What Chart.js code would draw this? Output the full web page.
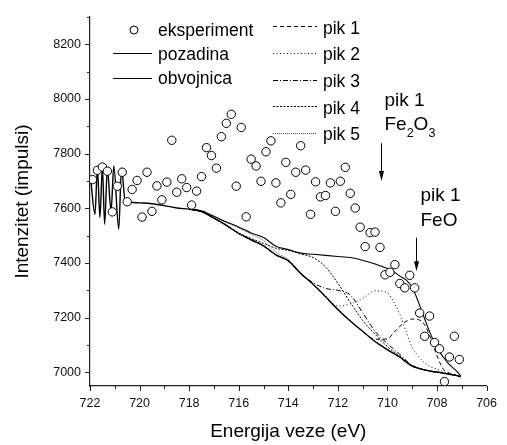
<!DOCTYPE html>
<html>
<head>
<meta charset="utf-8">
<script src="https://cdn.jsdelivr.net/npm/chart.js@4.4.0/dist/chart.umd.min.js"></script>
<style>
    html, body { margin: 0; padding: 0; background: #ffffff; }
    #wrap { width: 507px; height: 445px; }
</style>
</head>
<body>
<div id="wrap"><canvas id="xpsChart" width="507" height="445"></canvas></div>
<script>
// XPS Fe 2p3/2 spektar - eksperiment, pozadina, obvojnica i pikovi

const FONT = "'Liberation Sans', Arial, sans-serif";

// tick labels
const xTicks = [722, 720, 718, 716, 714, 712, 710, 708, 706];
const xMinorTicks = [721, 719, 717, 715, 713, 711, 709, 707];
const yTicks = [7000, 7200, 7400, 7600, 7800, 8000, 8200];
const yMinorTicks = [7100, 7300, 7500, 7700, 7900, 8100, 8300];

// eksperiment (circles)
const expX = [721.9, 721.7, 721.5, 721.3, 721.1, 720.9, 720.7, 720.5, 720.3, 720.1,
    719.9, 719.7, 719.5, 719.3, 719.1, 718.9, 718.7, 718.5, 718.3, 718.1,
    717.9, 717.7, 717.5, 717.3, 717.1, 716.9, 716.7, 716.5, 716.3, 716.1,
    715.9, 715.7, 715.5, 715.3, 715.1, 714.9, 714.7, 714.5, 714.3, 714.1,
    713.9, 713.7, 713.5, 713.3, 713.1, 712.9, 712.7, 712.5, 712.3, 712.1,
    711.9, 711.7, 711.5, 711.3, 711.1, 710.9, 710.7, 710.5, 710.3, 710.1,
    709.9, 709.7, 709.5, 709.3, 709.1, 708.9, 708.7, 708.5, 708.3, 708.1,
    707.9, 707.7, 707.5, 707.3, 707.1];
const expY = [7705, 7739, 7751, 7736, 7587, 7681, 7732, 7624, 7669, 7702,
    7568, 7732, 7589, 7682, 7631, 7696, 7849, 7659, 7708, 7676,
    7612, 7663, 7716, 7822, 7793, 7747, 7862, 7911, 7944, 7681,
    7896, 7569, 7780, 7755, 7699, 7807, 7847, 7693, 7620, 7768,
    7651, 7732, 7829, 7740, 7578, 7697, 7642, 7647, 7693, 7589,
    7699, 7750, 7655, 7601, 7531, 7460, 7511, 7513, 7457, 7357,
    7366, 7394, 7325, 7309, 7355, 7309, 7217, 7132, 7206, 7109,
    7086, 6966, 7056, 7132, 7047];

// pozadina (background)
const bgX = [721.97, 721.8, 721.7, 721.6, 721.5, 721.41, 721.3, 721.15, 721.04, 720.84,
    720.73, 720.58, 720.4, 720, 719.5, 719, 718.5, 718, 717.5, 717,
    716.5, 716, 715.5, 715, 714.5, 714, 713.5, 713, 712.5, 712,
    711.5, 711, 710.5, 710, 709.75, 709.5, 709.25, 709, 708.75, 708.5,
    708.25, 708, 707.75, 707.5, 707.25, 707.04];
const bgY = [7705, 7578, 7747, 7566, 7750, 7542, 7743, 7590, 7755, 7524,
    7748, 7625, 7622, 7620, 7617, 7610, 7601, 7597, 7588, 7564,
    7538, 7508, 7485, 7463, 7430, 7408, 7362, 7322, 7277, 7230,
    7188, 7150, 7113, 7083, 7069, 7056, 7038, 7023, 7015, 7009,
    7004, 7001, 6997, 6993, 6989, 6984];

// fit range (obvojnica + pikovi)
const fitX = [718, 717.5, 717, 716.5, 716, 715.5, 715, 714.5, 714, 713.5,
    713, 712.5, 712, 711.5, 711, 710.5, 710, 709.75, 709.5, 709.25,
    709, 708.75, 708.5, 708.25, 708, 707.75, 707.5, 707.25, 707.04];
const envY = [7598, 7591, 7571, 7550, 7532, 7510, 7493, 7461, 7449, 7436,
    7432, 7428, 7424, 7420, 7410, 7396, 7380, 7368, 7352, 7338,
    7310, 7257, 7196, 7138, 7090, 7056, 7028, 7008, 6987];
const pik1Y = [7597, 7588, 7564, 7538, 7508, 7485, 7463, 7430, 7408, 7362,
    7322, 7277, 7230, 7188, 7150, 7121, 7122, 7145, 7168, 7186,
    7195, 7193, 7174, 7123, 7061, 7012, 6997, 6990, 6984];
const pik2Y = [7597, 7588, 7564, 7538, 7508, 7485, 7463, 7430, 7408, 7362,
    7322, 7280, 7242, 7250, 7270, 7298, 7291, 7258, 7212, 7150,
    7092, 7058, 7035, 7020, 7012, 7002, 6995, 6990, 6984];
const pik3Y = [7597, 7588, 7564, 7538, 7508, 7485, 7463, 7430, 7408, 7362,
    7328, 7307, 7300, 7283, 7218, 7150, 7105, 7085, 7066, 7044,
    7026, 7015, 7009, 7004, 7001, 6997, 6993, 6989, 6984];
const pik4Y = [7597, 7588, 7564, 7538, 7510, 7490, 7472, 7454, 7446, 7433,
    7420, 7386, 7326, 7256, 7190, 7140, 7094, 7076, 7060, 7040,
    7024, 7015, 7009, 7004, 7001, 6997, 6993, 6989, 6984];
const pik5Y = [7598, 7590, 7570, 7549, 7528, 7505, 7482, 7440, 7413, 7364,
    7322, 7277, 7230, 7188, 7150, 7113, 7083, 7069, 7056, 7038,
    7023, 7015, 7009, 7004, 7001, 6997, 6993, 6989, 6984];

function toPoints(xs, ys) {
    return xs.map((x, i) => ({ x: x, y: ys[i] }));
}

function lineSet(label, xs, ys, width, dash, color) {
    return {
        label: label,
        data: toPoints(xs, ys),
        showLine: true,
        borderColor: color || '#000000',
        borderWidth: width,
        borderDash: dash,
        pointRadius: 0,
        fill: false,
        cubicInterpolationMode: 'monotone'
    };
}

// axis tick marks: long for labelled, short for minor
const tickMarks = {
    id: 'tickMarks',
    afterDraw(chart) {
        const { ctx, scales: { x, y } } = chart;
        ctx.save();
        ctx.strokeStyle = '#222222';
        ctx.lineWidth = 1;
        ctx.beginPath();
        xTicks.concat(xMinorTicks).forEach(v => {
            const px = Math.round(x.getPixelForValue(v)) + 0.5;
            const len = xTicks.includes(v) ? 5 : 3;
            ctx.moveTo(px, x.top);
            ctx.lineTo(px, x.top + len);
        });
        yTicks.concat(yMinorTicks).forEach(v => {
            const py = Math.round(y.getPixelForValue(v)) + 0.5;
            const len = yTicks.includes(v) ? 5 : 3;
            ctx.moveTo(y.right, py);
            ctx.lineTo(y.right - len, py);
        });
        ctx.stroke();
        ctx.restore();
    }
};

// legend in two columns, as in the original figure
const figureLegend = {
    id: 'figureLegend',
    afterDatasetsDraw(chart) {
        const ctx = chart.ctx;
        const ds = chart.data.datasets;
        ctx.save();
        ctx.font = '17.5px ' + FONT;
        ctx.fillStyle = '#000000';
        ctx.textBaseline = 'alphabetic';

        // eksperiment
        ctx.beginPath();
        ctx.arc(134, 30, 4, 0, Math.PI * 2);
        ctx.fillStyle = '#ffffff';
        ctx.fill();
        ctx.strokeStyle = '#000000';
        ctx.lineWidth = 1;
        ctx.stroke();
        ctx.fillStyle = '#000000';
        ctx.fillText(ds[0].label, 158, 35.5);

        const left = [[ds[1], 53.5, 60], [ds[2], 78.5, 84]];
        left.forEach(([d, ly, ty]) => {
            ctx.beginPath();
            ctx.setLineDash(d.borderDash || []);
            ctx.lineWidth = 1;
            ctx.strokeStyle = d.borderColor;
            ctx.moveTo(113, ly);
            ctx.lineTo(152, ly);
            ctx.stroke();
            ctx.fillText(d.label, 158, ty);
        });

        const right = [[ds[3], 26.5, 33.5], [ds[4], 53.5, 60], [ds[5], 80.5, 87],
            [ds[6], 106.5, 113.5], [ds[7], 133.5, 140]];
        right.forEach(([d, ly, ty]) => {
            ctx.beginPath();
            ctx.setLineDash(d.borderDash || []);
            ctx.lineWidth = d.borderWidth;
            ctx.strokeStyle = d.borderColor;
            ctx.moveTo(273, ly);
            ctx.lineTo(317, ly);
            ctx.stroke();
            ctx.fillText(d.label, 323, ty);
        });
        ctx.restore();
    }
};

// peak labels with arrows
function drawFormula(ctx, parts, x, y) {
    parts.forEach(([txt, sub]) => {
        ctx.font = (sub ? '12.5px ' : '19px ') + FONT;
        ctx.fillText(txt, x, sub ? y + 7 : y);
        x += ctx.measureText(txt).width;
    });
}

function drawArrow(ctx, x, y1, y2) {
    ctx.beginPath();
    ctx.moveTo(x, y1);
    ctx.lineTo(x, y2 - 8);
    ctx.stroke();
    ctx.beginPath();
    ctx.moveTo(x - 2.5, y2 - 10);
    ctx.lineTo(x + 2.5, y2 - 10);
    ctx.lineTo(x, y2);
    ctx.closePath();
    ctx.fill();
}

const peakLabels = {
    id: 'peakLabels',
    afterDatasetsDraw(chart) {
        const { ctx, scales: { x, y } } = chart;
        ctx.save();
        ctx.fillStyle = '#000000';
        ctx.strokeStyle = '#000000';
        ctx.lineWidth = 1;
        ctx.textBaseline = 'alphabetic';

        const ax1 = Math.round(x.getPixelForValue(710.27)) + 0.5;
        drawFormula(ctx, [['pik 1', false]], ax1 + 3, y.getPixelForValue(7975));
        drawFormula(ctx, [['Fe', false], ['2', true], ['O', false], ['3', true]],
            ax1 + 3, y.getPixelForValue(7885));
        drawArrow(ctx, ax1, y.getPixelForValue(7838), y.getPixelForValue(7700));

        const ax2 = Math.round(x.getPixelForValue(708.85)) + 0.5;
        drawFormula(ctx, [['pik 1', false]], ax2 + 4, y.getPixelForValue(7626));
        drawFormula(ctx, [['FeO', false]], ax2 + 4, y.getPixelForValue(7535));
        drawArrow(ctx, ax2, y.getPixelForValue(7493), y.getPixelForValue(7370));
        ctx.restore();
    }
};

const datasets = [
    {
        label: 'eksperiment',
        data: toPoints(expX, expY),
        showLine: false,
        pointRadius: 4.2,
        pointBorderWidth: 1,
        pointBorderColor: '#000000',
        pointBackgroundColor: '#ffffff'
    },
    lineSet('pozadina', bgX, bgY, 1.4, []),
    lineSet('obvojnica', fitX, envY, 1.1, []),
    lineSet('pik 1', fitX, pik1Y, 1, [4, 3]),
    lineSet('pik 2', fitX, pik2Y, 1, [1, 2.5]),
    lineSet('pik 3', fitX, pik3Y, 1, [5, 2, 1, 2]),
    lineSet('pik 4', fitX, pik4Y, 1, [2, 1.5]),
    lineSet('pik 5', fitX, pik5Y, 1, [1, 1], '#555555')
];

const xpsChart = new Chart(document.getElementById('xpsChart').getContext('2d'), {
    type: 'scatter',
    data: { datasets: datasets },
    options: {
        responsive: false,
        animation: false,
        events: [],
        layout: { padding: { top: 17, right: 13, left: 0, bottom: 0 } },
        plugins: {
            legend: { display: false },
            tooltip: { enabled: false }
        },
        scales: {
            x: {
                type: 'linear',
                reverse: true,
                min: 706,
                max: 722,
                afterBuildTicks: s => { s.ticks = xTicks.map(v => ({ value: v })); },
                afterFit: s => { s.height = 59; },
                grid: { display: false, drawTicks: false },
                border: { display: true, color: '#222222', width: 1.2 },
                ticks: {
                    color: '#111111',
                    padding: 10,
                    maxRotation: 0,
                    font: { family: FONT, size: 12.5 },
                    callback: v => String(v)
                },
                title: {
                    display: true,
                    text: 'Energija veze (eV)',
                    color: '#000000',
                    font: { family: FONT, size: 19 },
                    padding: { top: 0, bottom: 2 }
                }
            },
            y: {
                type: 'linear',
                min: 6950,
                max: 8300,
                afterBuildTicks: s => { s.ticks = yTicks.map(v => ({ value: v })); },
                afterFit: s => { s.width = 90; },
                grid: { display: false, drawTicks: false },
                border: { display: true, color: '#222222', width: 1.2 },
                ticks: {
                    color: '#111111',
                    padding: 9,
                    font: { family: FONT, size: 12.5 },
                    callback: v => String(v)
                },
                title: {
                    display: true,
                    text: 'Intenzitet (impulsi)',
                    color: '#000000',
                    font: { family: FONT, size: 19 },
                    padding: { top: 11, bottom: 0 }
                }
            }
        }
    },
    plugins: [tickMarks, figureLegend, peakLabels]
});
</script>
</body>
</html>
